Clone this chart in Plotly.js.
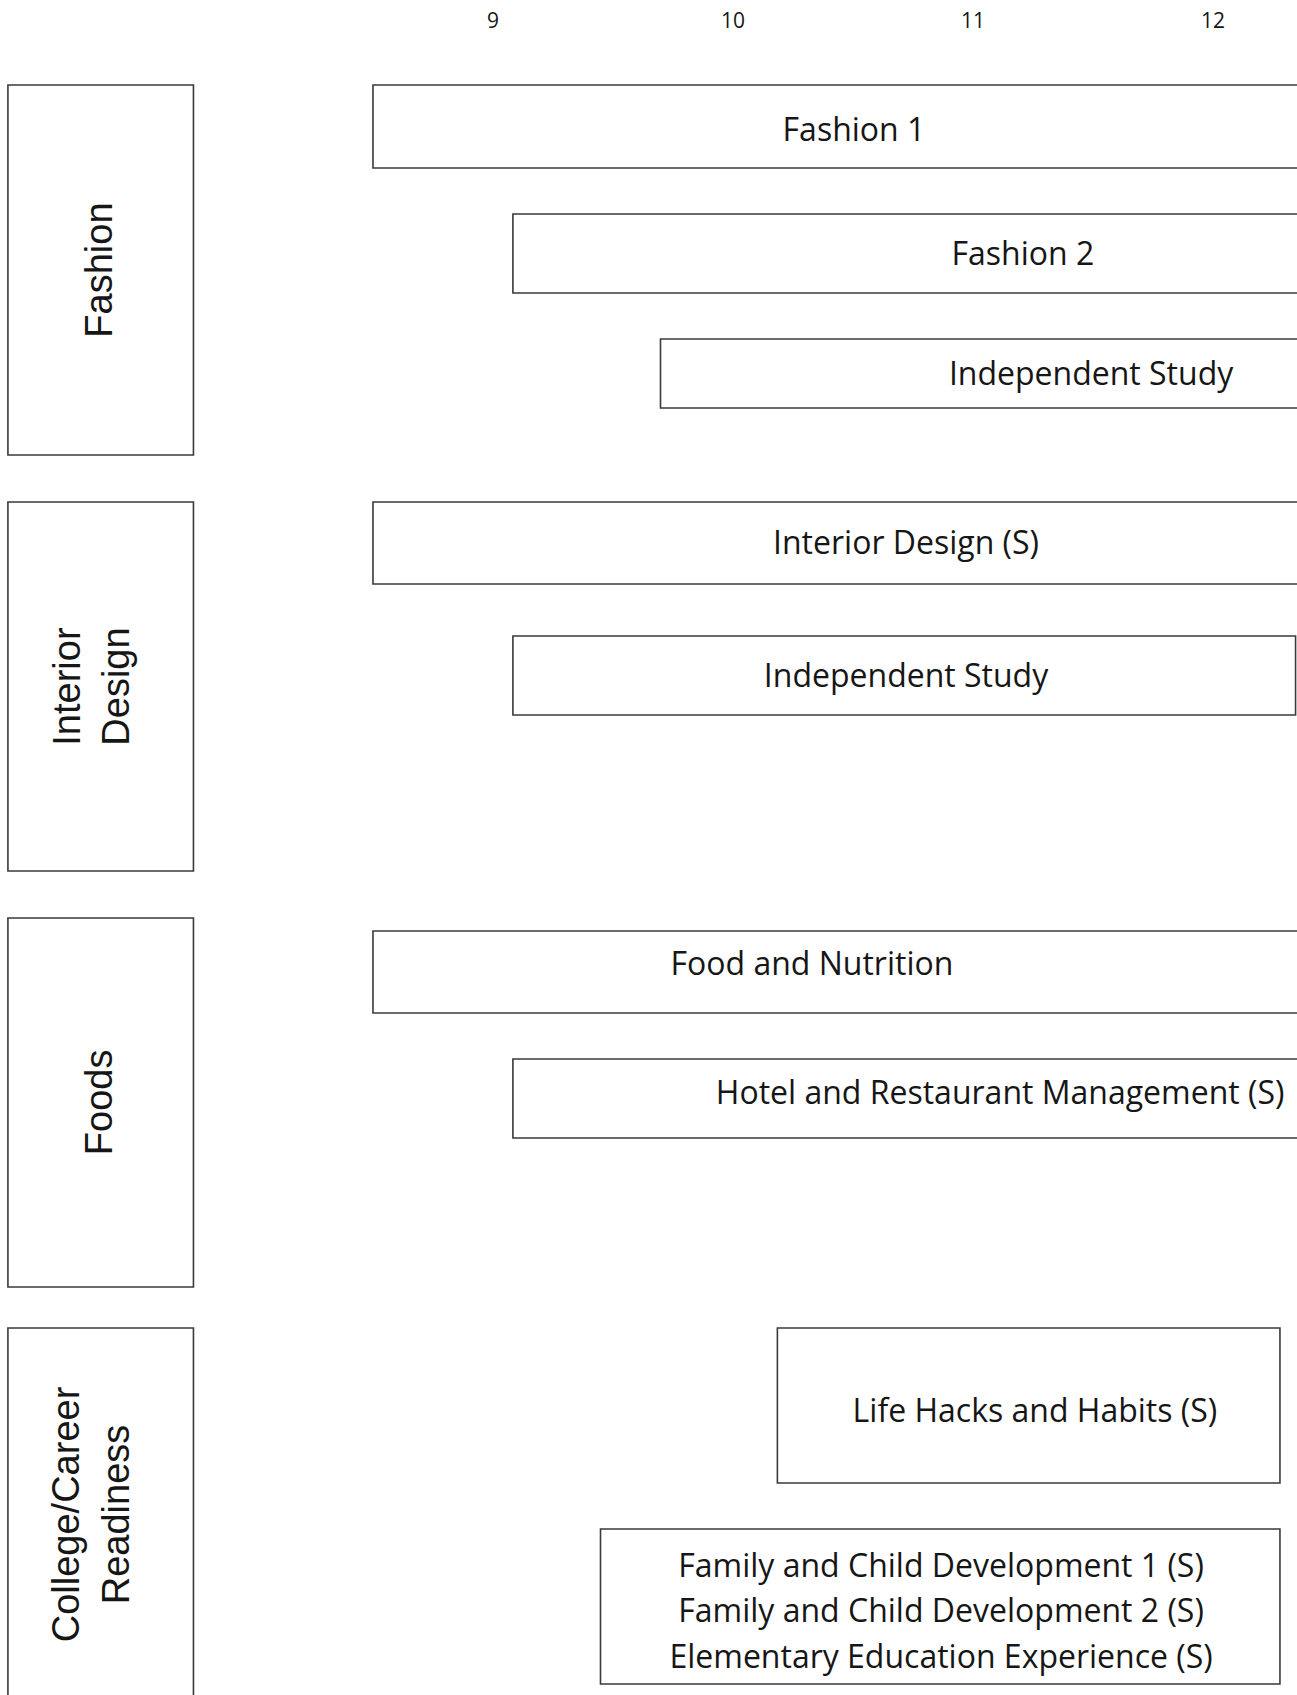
<!DOCTYPE html>
<html>
<head>
<meta charset="utf-8">
<script src="https://cdn.plot.ly/plotly-3.0.1.min.js"></script>
<style>
  html, body { margin: 0; padding: 0; background: #ffffff; }
  #chart { width: 1297px; height: 1695px; }
</style>
</head>
<body>
<div id="chart"></div>
<script>
// ---- Grade axis ----
const gradeTicks = [9, 10, 11, 12];
const gradeLabels = ['9', '10', '11', '12'];

// ---- Pathway categories (left boxes) ----
const categoryNames = ['Fashion', 'Interior<br>Design', 'Foods', 'College/Career<br>Readiness'];
const categoryStart = [6.979, 6.979, 6.979, 6.979];
const categoryEnd   = [7.752, 7.752, 7.752, 7.752];
const categoryCenter = [270, 686.5, 1102.5, 1514];
const categorySpan   = [370, 369, 369, 372];
const categoryLabelX = [7.357, 7.326, 7.357, 7.322];

// ---- Courses (boxes) ----
const courseNames = ['Fashion 1', 'Fashion 2', 'Independent Study', 'Interior Design (S)', 'Independent Study',
                     'Food and Nutrition', 'Hotel and Restaurant Management (S)', 'Life Hacks and Habits (S)',
                     'Family and Child Development / Elementary Education'];
const courseStart  = [8.5, 9.083, 9.698, 8.5, 9.083, 8.5, 9.083, 10.185, 9.448];
const courseEnd    = [12.6, 12.6, 12.6, 12.6, 12.344, 12.6, 12.6, 12.279, 12.279];
const courseCenter = [126.5, 253.5, 373.5, 543, 675.5, 972, 1098.5, 1405.5, 1606.5];
const courseSpan   = [83, 79, 69, 82, 79, 82, 79, 155, 155];

// ---- Course text labels ----
const labelText = ['Fashion 1', 'Fashion 2', 'Independent Study', 'Interior Design (S)', 'Independent Study',
                   'Food and Nutrition', 'Hotel and Restaurant Management (S)', 'Life Hacks and Habits (S)',
                   'Family and Child Development 1 (S)', 'Family and Child Development 2 (S)',
                   'Elementary Education Experience (S)'];
const labelX = [10.504, 11.208, 11.492, 10.721, 10.721, 10.329, 11.113, 11.258, 10.867, 10.867, 10.867];
const labelY = [133, 257, 377, 546, 679, 967, 1096, 1413.5, 1568.5, 1614, 1660];

const lineColor = '#3a3a3a';
const textColor = '#161616';

const categoryTrace = {
  type: 'bar',
  orientation: 'h',
  y: categoryCenter,
  base: categoryStart,
  x: categoryEnd.map((e, i) => e - categoryStart[i]),
  width: categorySpan,
  marker: { color: 'rgba(255,255,255,0)', line: { color: lineColor, width: 1.6 } },
  hoverinfo: 'skip',
  showlegend: false
};

const courseTrace = {
  type: 'bar',
  orientation: 'h',
  y: courseCenter,
  base: courseStart,
  x: courseEnd.map((e, i) => e - courseStart[i]),
  width: courseSpan,
  text: courseNames,
  textposition: 'none',
  marker: { color: 'rgba(255,255,255,0)', line: { color: lineColor, width: 1.6 } },
  hoverinfo: 'text',
  showlegend: false
};

const labelTrace = {
  type: 'scatter',
  mode: 'text',
  x: labelX,
  y: labelY,
  text: labelText,
  textposition: 'middle center',
  textfont: { family: '"Open Sans", Lato, sans-serif', size: 32, color: textColor },
  cliponaxis: false,
  hoverinfo: 'skip',
  showlegend: false
};

const annotations = categoryNames.map((name, i) => ({
  x: categoryLabelX[i],
  y: categoryCenter[i],
  xref: 'x', yref: 'y',
  text: name,
  textangle: -90,
  showarrow: false,
  font: { family: '"Liberation Sans", Arial, sans-serif', size: 38, color: textColor }
}));

const layout = {
  width: 1297,
  height: 1695,
  margin: { l: 0, r: 0, t: 0, b: 0, pad: 0 },
  paper_bgcolor: '#ffffff',
  plot_bgcolor: '#ffffff',
  barmode: 'overlay',
  showlegend: false,
  xaxis: {
    range: [6.946, 12.35],
    side: 'top',
    tickvals: gradeTicks,
    ticktext: gradeLabels,
    ticks: '',
    ticklabelposition: 'inside',
    ticklabelstandoff: 10,
    tickfont: { family: '"Open Sans", Lato, sans-serif', size: 21, color: textColor },
    showgrid: false,
    zeroline: false,
    showline: false,
    fixedrange: true
  },
  yaxis: {
    range: [1695, 0],
    showticklabels: false,
    ticks: '',
    showgrid: false,
    zeroline: false,
    showline: false,
    fixedrange: true
  },
  annotations: annotations
};

Plotly.newPlot('chart', [categoryTrace, courseTrace, labelTrace], layout, { displayModeBar: false, staticPlot: true });
</script>
</body>
</html>
